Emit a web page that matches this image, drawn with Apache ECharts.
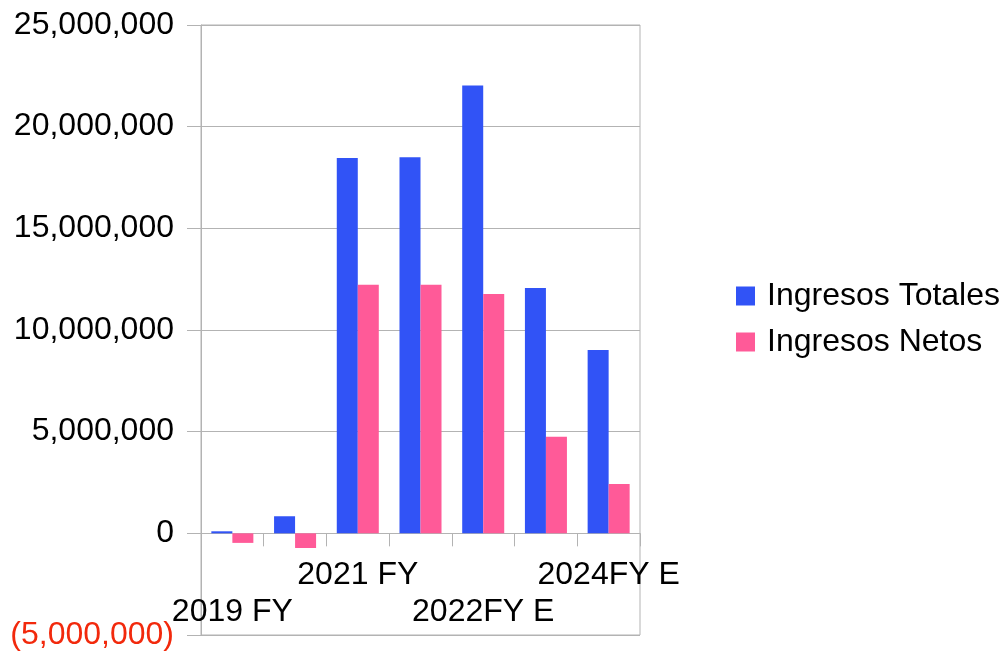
<!DOCTYPE html>
<html>
<head>
<meta charset="utf-8">
<script src="https://cdn.jsdelivr.net/npm/echarts@6/dist/echarts.min.js"></script>
<style>
  html, body { margin: 0; padding: 0; background: #ffffff; }
  #chart { width: 1007px; height: 653px; }
</style>
</head>
<body>
<div id="chart"></div>
<script>
// Fiscal years (actual and estimated)
const categories = ['2019 FY', '2020 FY', '2021 FY', '2022 FY', '2022FY E', '2023FY E', '2024FY E'];
// Revenue figures per year
const ingresosTotales = [100000, 840000, 18460000, 18490000, 22030000, 12070000, 9020000];
const ingresosNetos = [-470000, -720000, 12230000, 12230000, 11770000, 4750000, 2430000];
// Which category labels go on the upper and lower label rows
const upperRow = ['2021 FY', '2024FY E'];
const lowerRow = ['2019 FY', '2022FY E'];
// Value axis range
const yMin = -5000000;
const yMax = 25000000;
const yStep = 5000000;

const FONT = "'Liberation Sans', Arial, Helvetica, sans-serif";
const FONT_SIZE = 32;
const GRID_COLOR = '#b3b3b3';

function fmt(v) {
  const s = Math.abs(v).toLocaleString('en-US');
  return v < 0 ? '(' + s + ')' : s;
}

const labelBase = {
  hideOverlap: false,
  fontFamily: FONT, fontSize: FONT_SIZE, color: '#000000'
};

const chart = echarts.init(document.getElementById('chart'), null, { renderer: 'canvas' });

chart.setOption({
  animation: false,
  backgroundColor: '#ffffff',
  textStyle: { fontFamily: FONT },
  grid: {
    left: 201, right: 367, top: 25, bottom: 18,
    containLabel: false,
    outerBoundsMode: 'none',
    show: true, borderColor: GRID_COLOR, borderWidth: 1,
    backgroundColor: 'transparent'
  },
  legend: {
    orient: 'vertical',
    left: 736, top: 280,
    padding: 0,
    itemWidth: 19, itemHeight: 19, itemGap: 14,
    icon: 'rect',
    textStyle: {
      fontFamily: FONT, fontSize: FONT_SIZE, color: '#000000',
      lineHeight: FONT_SIZE, padding: [0, 0, 0, 7]
    },
    data: ['Ingresos Totales', 'Ingresos Netos']
  },
  xAxis: [
    {
      // main category axis: line and ticks at zero, upper label row
      type: 'category',
      data: categories,
      position: 'bottom',
      boundaryGap: true,
      axisLine: { show: true, onZero: true, lineStyle: { color: GRID_COLOR, width: 1 } },
      axisTick: { show: true, length: 13, alignWithLabel: false, interval: 0, lineStyle: { color: GRID_COLOR } },
      axisLabel: Object.assign({}, labelBase, {
        margin: -76,
        interval: function (i, v) { return upperRow.indexOf(v) >= 0; }
      }),
      splitLine: { show: false }
    },
    {
      // lower label row
      type: 'category',
      data: categories,
      position: 'bottom',
      offset: 0,
      boundaryGap: true,
      axisLine: { show: false, onZero: false },
      axisTick: { show: false },
      axisLabel: Object.assign({}, labelBase, {
        margin: -39,
        interval: function (i, v) { return lowerRow.indexOf(v) >= 0; }
      }),
      splitLine: { show: false }
    }
  ],
  yAxis: {
    type: 'value',
    min: yMin, max: yMax, interval: yStep,
    axisLine: { show: true, lineStyle: { color: GRID_COLOR, width: 1 } },
    axisTick: { show: true, length: 14, lineStyle: { color: GRID_COLOR } },
    axisLabel: {
      margin: 27,
      fontFamily: FONT, fontSize: FONT_SIZE,
      color: function (v) { return Number(v) < 0 ? '#f2290c' : '#000000'; },
      formatter: fmt
    },
    splitLine: { show: true, lineStyle: { color: GRID_COLOR, width: 1 } }
  },
  series: [
    {
      name: 'Ingresos Totales',
      type: 'bar',
      data: ingresosTotales,
      barGap: '0%',
      barCategoryGap: '33%',
      itemStyle: { color: '#3153f6' }
    },
    {
      name: 'Ingresos Netos',
      type: 'bar',
      data: ingresosNetos,
      barGap: '0%',
      barCategoryGap: '33%',
      itemStyle: { color: '#ff5a98' }
    }
  ]
});
</script>
</body>
</html>
